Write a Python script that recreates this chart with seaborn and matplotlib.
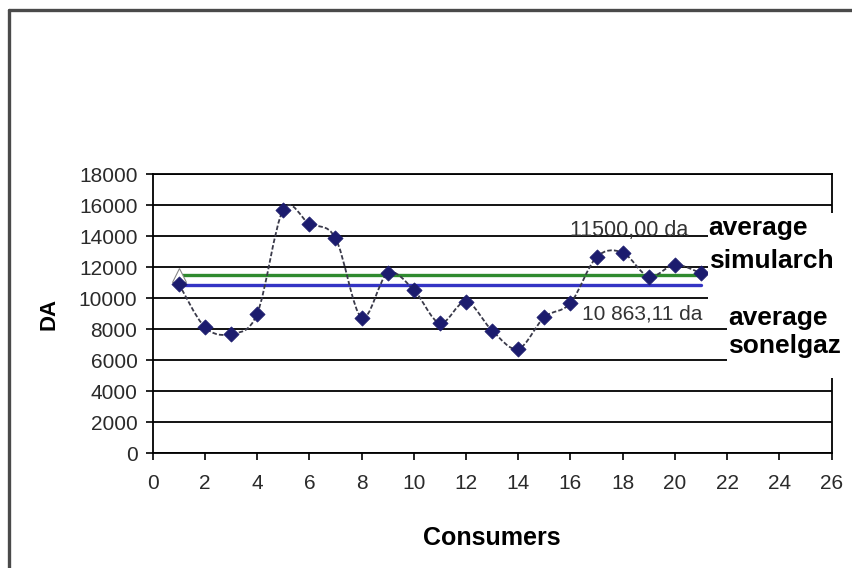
import numpy as np
import pandas as pd
import matplotlib
matplotlib.use("Agg")
import matplotlib.pyplot as plt
import seaborn as sns
from matplotlib.path import Path
from matplotlib.patches import PathPatch, Rectangle

# Monthly bill (DA) per consumer
consumers = list(range(1, 22))
bill_da = [10920, 8130, 7700, 8990, 15690, 14790, 13870, 8750, 11610, 10530,
           8390, 9780, 7910, 6730, 8770, 9680, 12640, 12940, 11390, 12150, 11610]

# Averages of the two billing methods
avg_simularch = 11500.00
avg_sonelgaz = 10863.11
avg_simularch_label = "11500,00 da"
avg_sonelgaz_label = "10 863,11 da"

x_ticks = list(range(0, 27, 2))
y_ticks = list(range(0, 18001, 2000))

sns.set_theme(style="white")
plt.rcParams["font.family"] = ["Liberation Sans", "DejaVu Sans"]

W, H = 853, 568
fig = plt.figure(figsize=(W / 100, H / 100), dpi=100)
fig.patch.set_facecolor("white")


def fx(px):
    return px / W


def fy(py):
    return 1 - py / H


left, right, top, bottom = 152.7, 831.5, 174.0, 453.3
ax = fig.add_axes([fx(left), fy(bottom), fx(right - left), (bottom - top) / H])

df = pd.DataFrame({"consumer": consumers, "bill": bill_da})
avg_df = pd.DataFrame({
    "consumer": [min(consumers), max(consumers)] * 2,
    "value": [avg_simularch] * 2 + [avg_sonelgaz] * 2,
    "method": ["simularch"] * 2 + ["sonelgaz"] * 2,
})

# average lines
sns.lineplot(data=avg_df, x="consumer", y="value", hue="method",
             palette={"simularch": "#2f8a2f", "sonelgaz": "#3434c4"},
             linewidth=2.4, legend=False, ax=ax, zorder=3)


# smoothed connecting curve (cubic Bezier through the points)
def smooth_path(xs, ys):
    pts = np.column_stack([xs, ys]).astype(float)
    n = len(pts)
    verts = [pts[0]]
    codes = [Path.MOVETO]
    for i in range(n - 1):
        p0 = pts[i - 1] if i > 0 else pts[i]
        p1 = pts[i]
        p2 = pts[i + 1]
        p3 = pts[i + 2] if i + 2 < n else pts[i + 1]
        verts += [p1 + (p2 - p0) / 6, p2 - (p3 - p1) / 6, p2]
        codes += [Path.CURVE4] * 3
    return Path(verts, codes)


ax.add_patch(PathPatch(smooth_path(df["consumer"], df["bill"]),
                       facecolor="none", edgecolor="#3a3a4a", linewidth=1.3,
                       linestyle=(0, (2.5, 1.2)), zorder=4))

sns.scatterplot(data=df, x="consumer", y="bill", marker="D", s=60,
                color="#1c1c6e", edgecolor="#1c1c6e", linewidth=0.5,
                ax=ax, zorder=5)

# open triangle marker of the simularch series
ax.plot([consumers[0]], [avg_simularch], marker="^", markersize=10,
        markerfacecolor="white", markeredgecolor="#888888",
        markeredgewidth=0.8, linestyle="none", zorder=4.5)

ax.set_xlim(0, 26)
ax.set_ylim(0, 18000)
ax.set_xticks(x_ticks)
ax.set_yticks(y_ticks)
ax.set_xticklabels([str(t) for t in x_ticks])
ax.set_yticklabels([str(t) for t in y_ticks])
ax.grid(axis="y", color="black", linewidth=1.3)
ax.grid(axis="x", visible=False)
for s in ax.spines.values():
    s.set_visible(True)
    s.set_color("black")
    s.set_linewidth(1.3)
ax.tick_params(axis="both", which="major", direction="out", length=5,
               width=1.2, color="black", labelsize=15, labelcolor="#2a2a2a",
               left=True, bottom=True)
ax.tick_params(axis="y", pad=6)
ax.tick_params(axis="x", pad=10)
ax.set_xlabel("Consumers", fontsize=18, fontweight="bold", labelpad=24,
              color="black")
ax.set_ylabel("DA", fontsize=16, fontweight="bold", labelpad=14, color="black")
ax.set_facecolor("white")

# white label panels on the right
fig.add_artist(Rectangle((fx(708), fy(305)), fx(850 - 708), (305 - 213) / H,
                         transform=fig.transFigure, facecolor="white",
                         edgecolor="none", zorder=2))
fig.add_artist(Rectangle((fx(727), fy(378)), fx(850 - 727), (378 - 300) / H,
                         transform=fig.transFigure, facecolor="white",
                         edgecolor="none", zorder=2))

fig.text(fx(570), fy(236), avg_simularch_label, fontsize=15.5, color="#333333",
         ha="left", va="baseline", zorder=3)
fig.text(fx(708), fy(235), "average", fontsize=19, fontweight="bold",
         color="black", ha="left", va="baseline", zorder=3)
fig.text(fx(709), fy(268), "simularch", fontsize=19, fontweight="bold",
         color="black", ha="left", va="baseline", zorder=3)
fig.text(fx(582), fy(319), avg_sonelgaz_label, fontsize=15, color="#333333",
         ha="left", va="baseline", zorder=3)
fig.text(fx(728), fy(325), "average", fontsize=19, fontweight="bold",
         color="black", ha="left", va="baseline", zorder=3)
fig.text(fx(728), fy(353), "sonelgaz", fontsize=19, fontweight="bold",
         color="black", ha="left", va="baseline", zorder=3)

# outer frame (top and left edges)
fig.add_artist(plt.Line2D([fx(9), fx(W + 5)], [fy(10), fy(10)],
                          transform=fig.transFigure, color="#4a4a4a",
                          linewidth=2.4, zorder=2))
fig.add_artist(plt.Line2D([fx(9), fx(9)], [fy(10), fy(H + 5)],
                          transform=fig.transFigure, color="#4a4a4a",
                          linewidth=2.4, zorder=2))

fig.savefig("out.png", dpi=100, facecolor="white")
